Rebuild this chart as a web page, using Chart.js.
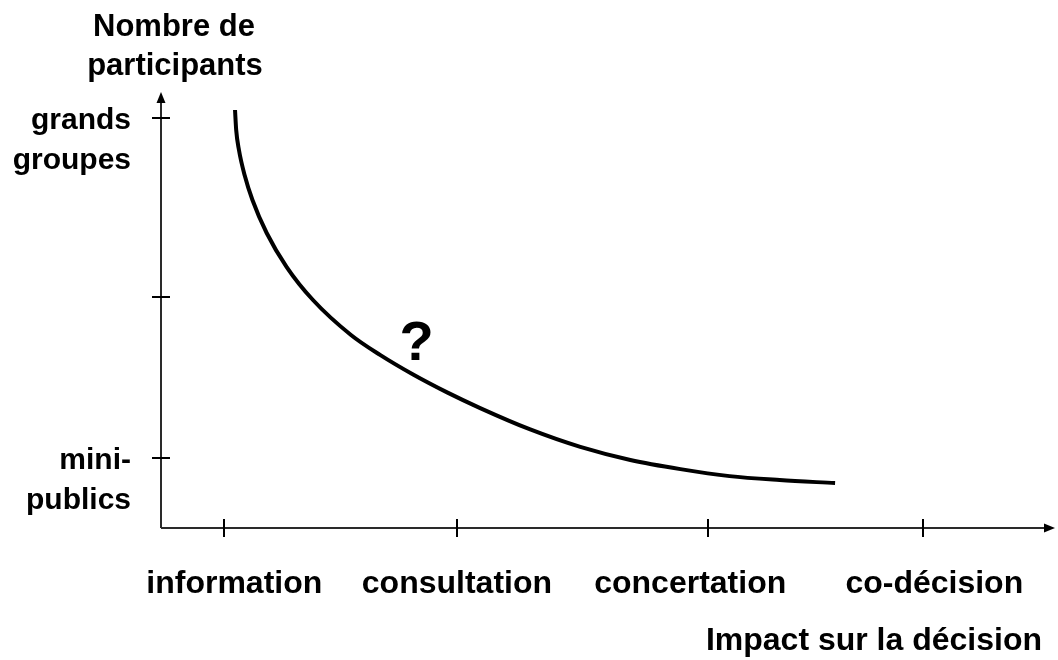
<!DOCTYPE html>
<html>
<head>
<meta charset="utf-8">
<script src="https://cdn.jsdelivr.net/npm/chart.js@4.4.1/dist/chart.umd.min.js"></script>
<style>
  html, body { margin: 0; padding: 0; background: #fff; }
  #wrap { width: 1058px; height: 660px; }
</style>
</head>
<body>
<div id="wrap"><canvas id="chart"></canvas></div>
<script>
// categories on the horizontal axis and where their tick marks sit
const impactLabels = ['information', 'consultation', 'concertation', 'co-décision'];
const impactTicks = [0.70, 3.31, 6.12, 8.52];
const impactLabelPos = [0.82, 3.31, 5.92, 8.65];

// vertical axis ticks (middle one has no label)
const groupTicks = [1.61, 5.30, 9.40];
const groupLabels = [['mini-', 'publics'], '', ['grands', 'groupes']];

// the curve
const curveX = [0.828, 0.841, 0.872, 0.935, 1.023, 1.182, 1.406, 1.700, 2.125, 2.45, 2.82, 3.20, 3.57, 4.13, 4.69, 5.25, 5.81, 6.36, 6.92, 7.54];
const curveY = [9.587, 9.128, 8.670, 8.096, 7.523, 6.766, 5.986, 5.229, 4.427, 3.97, 3.52, 3.11, 2.75, 2.26, 1.86, 1.56, 1.35, 1.19, 1.10, 1.03];

const questionMark = { x: 2.86, y: 4.20 };

const FONT = 'Liberation Sans, Arial, sans-serif';

const axesPlugin = {
    id: 'axes',
    afterDraw(chart) {
        const { ctx, chartArea, scales } = chart;
        const { x, y } = scales;
        const ox = chartArea.left, oy = chartArea.bottom;
        ctx.save();

        // axis lines
        ctx.strokeStyle = '#2a2a2a';
        ctx.lineWidth = 2;
        ctx.beginPath();
        ctx.moveTo(ox, oy);
        ctx.lineTo(chartArea.right - 8, oy);
        ctx.moveTo(ox, oy);
        ctx.lineTo(ox, chartArea.top + 8);
        ctx.stroke();

        // arrow heads
        ctx.fillStyle = '#000';
        ctx.beginPath();
        ctx.moveTo(chartArea.right, oy);
        ctx.lineTo(chartArea.right - 11, oy - 4.5);
        ctx.lineTo(chartArea.right - 11, oy + 4.5);
        ctx.closePath();
        ctx.fill();
        ctx.beginPath();
        ctx.moveTo(ox, chartArea.top);
        ctx.lineTo(ox - 4.5, chartArea.top + 11);
        ctx.lineTo(ox + 4.5, chartArea.top + 11);
        ctx.closePath();
        ctx.fill();

        // crossing tick marks
        ctx.strokeStyle = '#000';
        ctx.lineWidth = 2;
        ctx.beginPath();
        impactTicks.forEach(v => {
            const px = Math.round(x.getPixelForValue(v));
            ctx.moveTo(px, oy - 9);
            ctx.lineTo(px, oy + 9);
        });
        groupTicks.forEach(v => {
            const py = Math.round(y.getPixelForValue(v));
            ctx.moveTo(ox - 9, py);
            ctx.lineTo(ox + 9, py);
        });
        ctx.stroke();

        // axis titles and the question mark
        ctx.fillStyle = '#000';
        ctx.font = 'bold 31px ' + FONT;
        ctx.textAlign = 'center';
        ctx.textBaseline = 'middle';
        ctx.fillText('Nombre de', 174, 27);
        ctx.fillText('participants', 175, 66);
        ctx.font = 'bold 32px ' + FONT;
        ctx.textAlign = 'right';
        ctx.fillText('Impact sur la décision', 1042, 641);

        ctx.textAlign = 'center';
        ctx.font = 'bold 56px ' + FONT;
        ctx.fillText('?', x.getPixelForValue(questionMark.x), y.getPixelForValue(questionMark.y));
        ctx.restore();
    }
};

new Chart(document.getElementById('chart'), {
    type: 'line',
    data: {
        datasets: [{
            data: curveX.map((v, i) => ({ x: v, y: curveY[i] })),
            borderColor: '#000',
            borderWidth: 4,
            pointRadius: 0,
            fill: false,
            cubicInterpolationMode: 'monotone'
        }]
    },
    options: {
        responsive: true,
        maintainAspectRatio: false,
        animation: false,
        events: [],
        layout: { padding: { top: 92, right: 3, left: 0, bottom: 0 } },
        plugins: {
            legend: { display: false },
            tooltip: { enabled: false }
        },
        scales: {
            x: {
                type: 'linear',
                min: 0,
                max: 10,
                grid: { display: false },
                border: { display: false },
                afterBuildTicks: axis => {
                    axis.ticks = impactLabelPos.map(v => ({ value: v }));
                },
                afterFit: axis => { axis.height = 132; },
                ticks: {
                    autoSkip: false,
                    maxRotation: 0,
                    padding: 29,
                    color: '#000',
                    font: { family: FONT, size: 32, weight: 'bold', lineHeight: 1.2 },
                    callback: (v, i) => impactLabels[i]
                }
            },
            y: {
                type: 'linear',
                min: 0,
                max: 10,
                grid: { display: false },
                border: { display: false },
                afterBuildTicks: axis => {
                    axis.ticks = groupTicks.map(v => ({ value: v }));
                },
                afterFit: axis => { axis.width = 161; },
                ticks: {
                    autoSkip: false,
                    padding: 22,
                    labelOffset: 23,
                    color: '#000',
                    font: { family: FONT, size: 30, weight: 'bold', lineHeight: 1.333 },
                    callback: (v, i) => groupLabels[i]
                }
            }
        }
    },
    plugins: [axesPlugin]
});
</script>
</body>
</html>
